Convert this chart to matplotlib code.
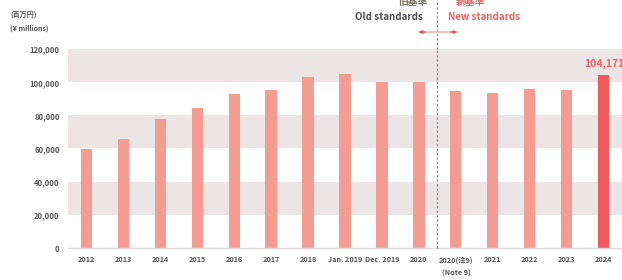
import matplotlib
matplotlib.use("Agg")
import matplotlib.pyplot as plt

plt.rcParams['font.family'] = ['Noto Sans CJK JP', 'DejaVu Sans']

categories = ["2012", "2013", "2014", "2015", "2016", "2017", "2018", "Jan. 2019",
              "Dec. 2019", "2020", "2020(注9)\n(Note 9)", "2021", "2022", "2023", "2024"]
values = [59500, 66000, 78000, 84500, 92900, 95000, 103000, 105200,
          100400, 99800, 94500, 93300, 95600, 95000, 104171]
yticks = [0, 20000, 40000, 60000, 80000, 100000, 120000]
bands = [(20000, 40000), (60000, 80000), (100000, 120000)]

W, H = 622, 280
fig = plt.figure(figsize=(W / 100, H / 100), dpi=100)
ax = fig.add_axes([68 / W, 1 - 248 / H, 1 - 68 / W, (248 - 49) / H])

for lo, hi in bands:
    ax.axhspan(lo, hi, color='#ebe5e5', zorder=0, lw=0)

x = list(range(len(categories)))
colors = ['#f59c92'] * (len(values) - 1) + ['#f05a5a']
ax.bar(x, values, width=0.3, color=colors, zorder=2)

ax.set_xlim(-0.49, 14.49)
ax.set_ylim(0, 120000)
ax.set_yticks(yticks)
ax.set_yticklabels([f"{v:,}" for v in yticks], fontsize=5.5, color='#555555', fontweight='bold')
ax.set_xticks(x)
ax.set_xticklabels(categories, fontsize=5.2, color='#555555', fontweight='bold', linespacing=1.9)
ax.tick_params(axis='both', length=0, pad=6)
for s in ['top', 'right', 'left']:
    ax.spines[s].set_visible(False)
ax.spines['bottom'].set_color('#d9d9d9')
ax.spines['bottom'].set_linewidth(1.0)

# divider between old and new standards
ax.axvline(9.5, ymin=0, ymax=1, color='#e06060', lw=0.8, ls=(0, (2, 2)), zorder=3, clip_on=False)
ax.plot([9.5, 9.5], [120000, 120000 + 49 * 120000 / 199], color='#e06060', lw=0.8,
        ls=(0, (2, 2)), clip_on=False, zorder=3)

# value label
ax.text(14, values[-1] + 3500, f"{values[-1]:,}", ha='center', va='bottom',
        fontsize=7.5, fontweight='bold', color='#f06060', clip_on=False)

# header labels
fig.text(10 / W, 1 - 14 / H, "(百万円)", fontsize=5, fontweight='bold', color='#555555', va='center')
fig.text(10 / W, 1 - 28 / H, "(¥ millions)", fontsize=5, fontweight='bold', color='#555555', va='center')

fig.text(427 / W, 1 - 2 / H, "旧基準", fontsize=7, fontweight='bold', color='#7a7560', ha='right', va='center')
fig.text(423 / W, 1 - 17 / H, "Old standards", fontsize=7, fontweight='bold', color='#4d4d4d', ha='right', va='center')
fig.text(456 / W, 1 - 2 / H, "新基準", fontsize=7, fontweight='bold', color='#f06060', ha='left', va='center')
fig.text(448 / W, 1 - 17 / H, "New standards", fontsize=7, fontweight='bold', color='#f06060', ha='left', va='center')

# double arrow: pink shaft, red heads
ay = 1 - 32 / H
ax.annotate("", xy=(10.03, ay), xytext=(9.0, ay),
            xycoords=('data', 'figure fraction'), textcoords=('data', 'figure fraction'),
            arrowprops=dict(arrowstyle='-', color='#f4b0b0', lw=1.2, shrinkA=0, shrinkB=0))
ax.annotate("", xy=(10.03, ay), xytext=(9.85, ay),
            xycoords=('data', 'figure fraction'), textcoords=('data', 'figure fraction'),
            arrowprops=dict(arrowstyle='-|>', color='#e85050', lw=0.8,
                            mutation_scale=5, shrinkA=0, shrinkB=0))
ax.annotate("", xy=(9.0, ay), xytext=(9.18, ay),
            xycoords=('data', 'figure fraction'), textcoords=('data', 'figure fraction'),
            arrowprops=dict(arrowstyle='-|>', color='#e85050', lw=0.8,
                            mutation_scale=5, shrinkA=0, shrinkB=0))

fig.savefig("out.png", dpi=100)
